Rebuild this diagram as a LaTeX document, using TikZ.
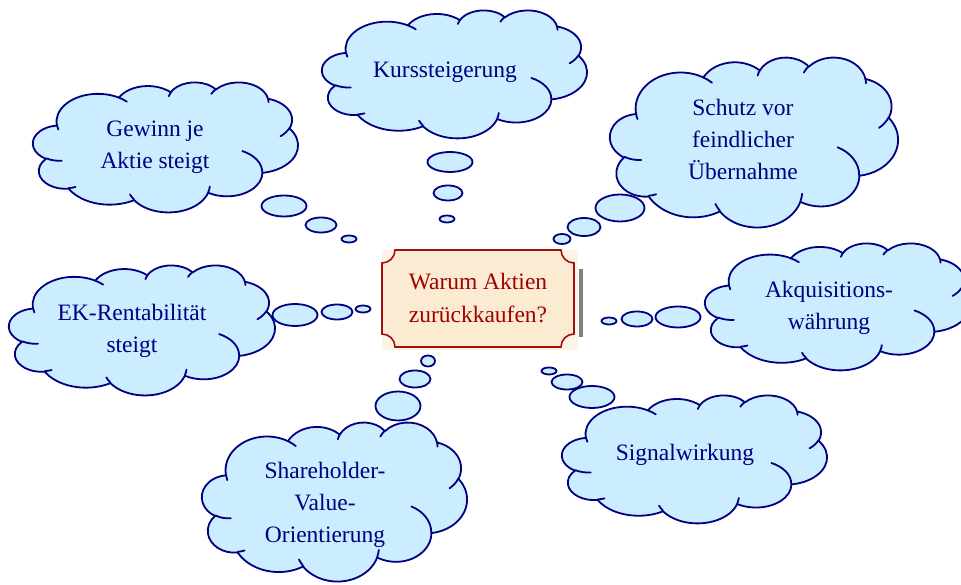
\documentclass[tikz,border=0pt]{standalone}
\usepackage{fontspec}
\setmainfont{Liberation Serif}
\definecolor{cloudfill}{HTML}{CCECFF}
\definecolor{cloudline}{HTML}{000080}
\definecolor{plaquefill}{HTML}{FCEBD3}
\definecolor{plaquebg}{HTML}{FDF4E6}
\definecolor{plaqueline}{HTML}{A50F0F}
\definecolor{plaquetext}{HTML}{A00000}
\definecolor{shadowgray}{HTML}{808080}
\tikzset{
  cloudstyle/.style={fill=cloudfill, draw=cloudline, line width=1.8pt, line join=round},
  curlstyle/.style={draw=cloudline, line width=1.8pt, line cap=round},
  cloudtext/.style={text=cloudline, align=center, font=\fontsize{23.5}{32}\selectfont, inner sep=0pt},
  plaquetextstyle/.style={text=plaquetext, align=center, font=\fontsize{23.5}{33}\selectfont, inner sep=0pt},
}
\newcommand\pcloud[4]{%
  \pgfmathsetmacro\cL{#1}%
  \pgfmathsetmacro\cT{585-#2}%
  \pgfmathsetmacro\cw{#3/4320}%
  \pgfmathsetmacro\ch{#4/4320}%
  \filldraw[cloudstyle] ({\cL+390*\cw},{\cT-1437*\ch})
    arc[start angle=187.745, end angle=59.64, x radius={675.3*\cw}, y radius={919.0*\ch}]
    arc[start angle=152.02, end angle=45.46, x radius={533.3*\cw}, y radius={726.7*\ch}]
    arc[start angle=153.50, end angle=37.35, x radius={436.5*\cw}, y radius={594.5*\ch}]
    arc[start angle=139.72, end angle=10.21, x radius={485.7*\cw}, y radius={659.5*\ch}]
    arc[start angle=74.77, end angle=-23.21, x radius={533.3*\cw}, y radius={727.3*\ch}]
    arc[start angle=37.52, end angle=-81.86, x radius={677.5*\cw}, y radius={922.0*\ch}]
    arc[start angle=-0.46, end angle=-121.97, x radius={578.5*\cw}, y radius={786.7*\ch}]
    arc[start angle=-16.84, end angle=-146.23, x radius={675.2*\cw}, y radius={921.5*\ch}]
    arc[start angle=-58.99, end angle=-150.18, x radius={772.0*\cw}, y radius={1054.3*\ch}]
    arc[start angle=-83.31, end angle=-223.09, x radius={436.0*\cw}, y radius={591.8*\ch}]
    arc[start angle=-120.36, end angle=-264.11, x radius={434.5*\cw}, y radius={594.5*\ch}]
    -- cycle;
  \draw[curlstyle]
    ({\cL+469.3*\cw},{\cT-2617.7*\ch}) arc[start angle=-85.55, end angle=-120.36, x radius={434.5*\cw}, y radius={594.5*\ch}]
    ({\cL+692.8*\cw},{\cT-3489.9*\ch}) arc[start angle=-68.23, end angle=-83.31, x radius={436.0*\cw}, y radius={591.8*\ch}]
    ({\cL+1647.8*\cw},{\cT-3909.0*\ch}) arc[start angle=-146.23, end angle=-158.47, x radius={675.2*\cw}, y radius={921.5*\ch}]
    ({\cL+2882.7*\cw},{\cT-3475.1*\ch}) arc[start angle=-4.74, end angle=-16.84, x radius={675.2*\cw}, y radius={921.5*\ch}]
    ({\cL+3412.9*\cw},{\cT-2295.4*\ch}) arc[start angle=64.03, end angle=-0.46, x radius={578.5*\cw}, y radius={786.7*\ch}]
    ({\cL+4179.8*\cw},{\cT-1535.4*\ch}) arc[start angle=-23.21, end angle=-49.63, x radius={533.3*\cw}, y radius={727.3*\ch}]
    ({\cL+3832.4*\cw},{\cT-542.6*\ch}) arc[start angle=10.21, end angle=-0.82, x radius={485.7*\cw}, y radius={659.5*\ch}]
    ({\cL+2907.8*\cw},{\cT-395.2*\ch}) arc[start angle=156.29, end angle=139.72, x radius={485.7*\cw}, y radius={659.5*\ch}]
    ({\cL+2214.1*\cw},{\cT-472.0*\ch}) arc[start angle=167.72, end angle=153.49, x radius={436.5*\cw}, y radius={594.5*\ch}]
    ({\cL+1400.0*\cw},{\cT-519.2*\ch}) arc[start angle=59.64, end angle=45.75, x radius={675.3*\cw}, y radius={919.0*\ch}]
    ({\cL+412.7*\cw},{\cT-1578.9*\ch}) arc[start angle=-163.19, end angle=-172.25, x radius={675.3*\cw}, y radius={919.0*\ch}];
}
\begin{document}
\begin{tikzpicture}[x=1pt, y=1pt]
\clip (0,0) rectangle (961,585);
\fill[white] (0,0) rectangle (961,585);

% clouds (left, top, width, height in pixels)
\pcloud{322}{10}{265}{128}
\pcloud{33}{82}{265}{130}
\pcloud{610}{57}{288}{170}
\pcloud{9}{265}{266}{130}
\pcloud{705}{243}{265}{127}
\pcloud{562}{395}{265}{128}
\pcloud{202}{422}{265}{159}

% thought bubbles
\filldraw[cloudstyle] (450,423) ellipse [x radius=22.5, y radius=10];
\filldraw[cloudstyle] (448,392) ellipse [x radius=14.5, y radius=7.5];
\filldraw[cloudstyle] (447,366) ellipse [x radius=7.5, y radius=3.5];

\filldraw[cloudstyle] (284,379) ellipse [x radius=22.5, y radius=10.5];
\filldraw[cloudstyle] (321,360) ellipse [x radius=15.5, y radius=7.5];
\filldraw[cloudstyle] (349,346) ellipse [x radius=7.5, y radius=3.5];

\filldraw[cloudstyle] (620,377) ellipse [x radius=24.5, y radius=13.5];
\filldraw[cloudstyle] (584,358) ellipse [x radius=16.5, y radius=9];
\filldraw[cloudstyle] (562,346) ellipse [x radius=8.5, y radius=5];

\filldraw[cloudstyle] (295,270) ellipse [x radius=22.5, y radius=11];
\filldraw[cloudstyle] (337,273) ellipse [x radius=15.5, y radius=7.5];
\filldraw[cloudstyle] (363,276) ellipse [x radius=7.5, y radius=3.5];

\filldraw[cloudstyle] (678,268) ellipse [x radius=22.5, y radius=10.5];
\filldraw[cloudstyle] (637,266) ellipse [x radius=15.5, y radius=7.5];
\filldraw[cloudstyle] (609,264) ellipse [x radius=7.5, y radius=3.5];

\filldraw[cloudstyle] (592,188) ellipse [x radius=22.5, y radius=11];
\filldraw[cloudstyle] (567,203) ellipse [x radius=15.5, y radius=7.5];
\filldraw[cloudstyle] (549,214) ellipse [x radius=7.5, y radius=3.5];

\filldraw[cloudstyle] (398,179) ellipse [x radius=22.5, y radius=14.5];
\filldraw[cloudstyle] (415,206) ellipse [x radius=15.5, y radius=8.5];
\filldraw[cloudstyle] (428,224) ellipse [x radius=7, y radius=5.5];

% central plaque
\fill[plaquebg] (382,235) rectangle (578,335);
\fill[shadowgray] (579,248) rectangle (583,316);
\filldraw[fill=plaquefill, draw=plaqueline, line width=1.6pt]
  (395,335) -- (561,335) arc[start angle=180, end angle=270, radius=13]
  -- (574,251) arc[start angle=90, end angle=180, radius=13]
  -- (395,238) arc[start angle=0, end angle=90, radius=13]
  -- (382,322) arc[start angle=270, end angle=360, radius=13] -- cycle;

% texts
\node[plaquetextstyle] (center) at (478,286.5) {Warum Aktien\\zurückkaufen?};
\node[cloudtext] (kurs) at (445,513) {Kurssteigerung};
\node[cloudtext] (gewinn) at (155,438) {Gewinn je\\Aktie steigt};
\node[cloudtext] (schutz) at (743,446) {Schutz vor\\feindlicher\\Übernahme};
\node[cloudtext] (ek) at (132,254) {EK-Rentabilität\\steigt};
\node[cloudtext] (akq) at (829,277) {Akquisitions-\\währung};
\node[cloudtext] (signal) at (685,130) {Signalwirkung};
\node[cloudtext] (share) at (325,80) {Shareholder-\\Value-\\Orientierung};
\end{tikzpicture}
\end{document}
